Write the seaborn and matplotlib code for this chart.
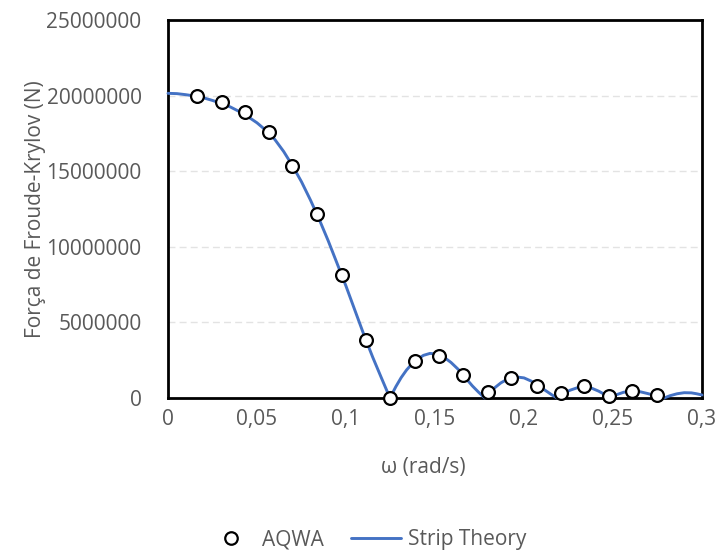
import matplotlib
matplotlib.use("Agg")
import matplotlib.pyplot as plt
import matplotlib.ticker as mticker
from matplotlib.lines import Line2D
import seaborn as sns
import pandas as pd

# AQWA results
aqwa_omega = [0.0163, 0.0303, 0.0433, 0.0567, 0.0697, 0.0837, 0.0978, 0.1112, 0.1247, 0.1388,
              0.1522, 0.1657, 0.1798, 0.1927, 0.2073, 0.2208, 0.2337, 0.2478, 0.2607, 0.2747]
aqwa_force = [19.97e6, 19.58e6, 18.90e6, 17.60e6, 15.34e6, 12.17e6, 8.13e6, 3.84e6, 0.0, 2.45e6,
              2.78e6, 1.52e6, 0.40e6, 1.32e6, 0.79e6, 0.33e6, 0.79e6, 0.13e6, 0.46e6, 0.20e6]

# Strip theory curve (values in millions of N)
strip_omega = [0.0, 0.005, 0.01, 0.015, 0.02, 0.025, 0.03, 0.035, 0.04, 0.045, 0.05, 0.055,
               0.06, 0.065, 0.07, 0.075, 0.08, 0.085, 0.09, 0.095, 0.10, 0.105, 0.11, 0.115,
               0.12, 0.1247,
               0.128, 0.131, 0.134, 0.137, 0.14, 0.1435, 0.1472, 0.151, 0.155, 0.159, 0.163,
               0.167, 0.171, 0.1745, 0.178,
               0.181, 0.184, 0.187, 0.19, 0.193, 0.196, 0.2, 0.204, 0.208, 0.212, 0.2155, 0.2185,
               0.222, 0.226, 0.23, 0.2337, 0.238, 0.242, 0.245, 0.2483,
               0.252, 0.256, 0.2607, 0.265, 0.27, 0.2745, 0.2787,
               0.282, 0.286, 0.29, 0.294, 0.297, 0.3]
strip_force_m = [20.15, 20.13, 20.06, 19.97, 19.85, 19.68, 19.48, 19.25, 18.95, 18.6, 18.2, 17.7,
                 17.1, 16.3, 15.35, 14.3, 13.1, 11.8, 10.4, 8.9, 7.4, 5.8, 4.2, 2.7,
                 1.3, 0.0,
                 0.75, 1.35, 1.85, 2.25, 2.55, 2.82, 2.95, 2.9, 2.7, 2.35, 1.9,
                 1.35, 0.8, 0.38, 0.0,
                 0.4, 0.72, 1.0, 1.2, 1.33, 1.39, 1.33, 1.12, 0.82, 0.5, 0.22, 0.0,
                 0.3, 0.52, 0.68, 0.74, 0.65, 0.45, 0.25, 0.0,
                 0.22, 0.38, 0.46, 0.42, 0.28, 0.12, 0.0,
                 0.15, 0.28, 0.35, 0.34, 0.28, 0.2]
strip_force = [v * 1e6 for v in strip_force_m]

x_ticks = [0, 0.05, 0.1, 0.15, 0.2, 0.25, 0.3]
y_ticks = [0, 5000000, 10000000, 15000000, 20000000, 25000000]

sns.set_theme(style="white")
plt.rcParams['font.family'] = ['Open Sans', 'DejaVu Sans']

TXT = "#595959"
FS = 15
fig = plt.figure(figsize=(7.2, 5.53), dpi=100)
ax = fig.add_axes([168/720, 1-398/553, (702-168)/720, (398-20)/553])

df_line = pd.DataFrame({"omega": strip_omega, "force": strip_force})
df_pts = pd.DataFrame({"omega": aqwa_omega, "force": aqwa_force})

sns.lineplot(data=df_line, x="omega", y="force", ax=ax, color="#4472C4", linewidth=2.1,
             sort=False, zorder=3, clip_on=False)
sns.scatterplot(data=df_pts, x="omega", y="force", ax=ax, marker="o", s=85,
                facecolor="white", edgecolor="black", linewidth=1.6, zorder=4, clip_on=False)

ax.set_xlim(0, 0.3)
ax.set_ylim(0, 25000000)
ax.set_xticks(x_ticks)
ax.set_yticks(y_ticks)
ax.xaxis.set_major_formatter(mticker.FuncFormatter(lambda v, p: ("%g" % v).replace(".", ",")))
ax.yaxis.set_major_formatter(mticker.FuncFormatter(lambda v, p: "%d" % v))
ax.tick_params(axis="both", length=0, labelsize=FS, colors=TXT)
ax.tick_params(axis="x", pad=8)
ax.tick_params(axis="y", pad=19)

for yv in y_ticks[1:-1]:
    ax.axhline(yv, color="#e3e3e3", linewidth=1.0, linestyle=(0, (5, 3)), zorder=1)

for s in ["left", "right", "top", "bottom"]:
    ax.spines[s].set_visible(True)
    ax.spines[s].set_color("black")
    ax.spines[s].set_linewidth(2.0)

ax.set_xlabel("ω (rad/s)", fontsize=FS, color=TXT)
ax.set_ylabel("Força de Froude-Krylov (N)", fontsize=FS, color=TXT)
ax.xaxis.set_label_coords((423-168)/(702-168), -(457-398)/(398-20))
ax.yaxis.set_label_coords(-(168-46)/(702-168), 0.5)

handles = [Line2D([], [], marker="o", linestyle="none", markerfacecolor="white",
                  markeredgecolor="black", markeredgewidth=1.6, markersize=9),
           Line2D([], [], color="#4472C4", linewidth=2.1)]
leg = fig.legend(handles, ["AQWA", "Strip Theory"], loc="center", ncol=2,
                 bbox_to_anchor=(366/720, 1-540/553), frameon=False, fontsize=FS,
                 handlelength=2.4, columnspacing=1.3, handletextpad=0.3)
for t in leg.get_texts():
    t.set_color(TXT)

fig.savefig("out.png", dpi=100)
